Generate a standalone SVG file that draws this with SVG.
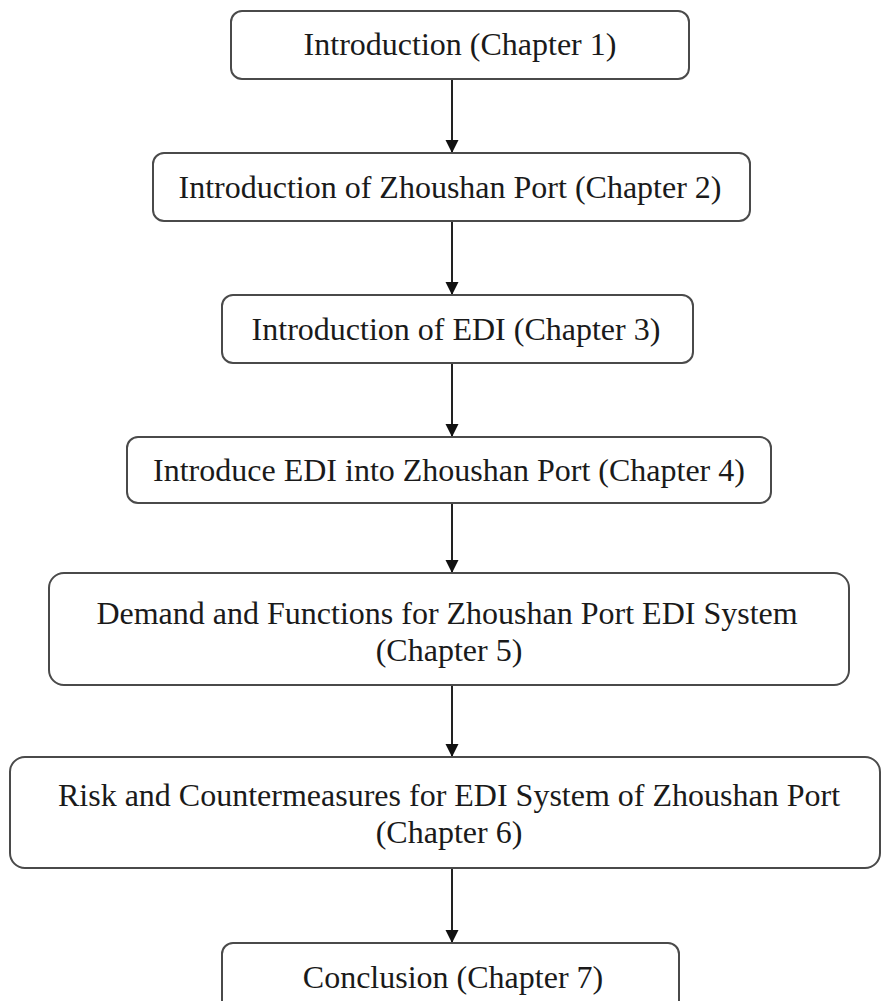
<svg xmlns="http://www.w3.org/2000/svg" width="882" height="1001" viewBox="0 0 882 1001">
  <style>
    .box { fill: #ffffff; stroke: #4a4a4a; stroke-width: 2; }
    .lbl { font-family: "Liberation Serif", "Times New Roman", serif; font-size: 32px; fill: #1a1a1a; text-anchor: middle; }
    .conn { stroke: #222222; stroke-width: 2; fill: none; marker-end: url(#arr); }
  </style>
  <defs>
    <marker id="arr" markerUnits="userSpaceOnUse" markerWidth="14" markerHeight="17" refX="13" refY="6.5" orient="auto">
      <path d="M0,0 L13,6.5 L0,13 Z" fill="#111111"/>
    </marker>
  </defs>
  <rect width="882" height="1001" fill="#ffffff"/>
  <g id="connectors">
    <line class="conn" x1="452" y1="79" x2="452" y2="153"/>
    <line class="conn" x1="452" y1="221" x2="452" y2="295"/>
    <line class="conn" x1="452" y1="363" x2="452" y2="437"/>
    <line class="conn" x1="452" y1="503" x2="452" y2="573"/>
    <line class="conn" x1="452" y1="685" x2="452" y2="757"/>
    <line class="conn" x1="452" y1="868" x2="452" y2="943"/>
  </g>
  <g id="n1">
    <rect class="box" x="231" y="11" width="458" height="68" rx="11"/>
    <text class="lbl" x="460" y="55">Introduction (Chapter 1)</text>
  </g>
  <g id="n2">
    <rect class="box" x="153" y="153" width="597" height="68" rx="11"/>
    <text class="lbl" x="450" y="198">Introduction of Zhoushan Port (Chapter 2)</text>
  </g>
  <g id="n3">
    <rect class="box" x="222" y="295" width="471" height="68" rx="11"/>
    <text class="lbl" x="456" y="340">Introduction of EDI (Chapter 3)</text>
  </g>
  <g id="n4">
    <rect class="box" x="127" y="437" width="644" height="66" rx="11"/>
    <text class="lbl" x="449" y="481">Introduce EDI into Zhoushan Port (Chapter 4)</text>
  </g>
  <g id="n5">
    <rect class="box" x="49" y="573" width="800" height="112" rx="15"/>
    <text class="lbl" x="447" y="624">Demand and Functions for Zhoushan Port EDI System</text>
    <text class="lbl" x="449" y="661">(Chapter 5)</text>
  </g>
  <g id="n6">
    <rect class="box" x="10" y="757" width="870" height="111" rx="15"/>
    <text class="lbl" x="449" y="806">Risk and Countermeasures for EDI System of Zhoushan Port</text>
    <text class="lbl" x="449" y="843">(Chapter 6)</text>
  </g>
  <g id="n7">
    <rect class="box" x="222" y="943" width="457" height="75" rx="11"/>
    <text class="lbl" x="453" y="988">Conclusion (Chapter 7)</text>
  </g>
</svg>
